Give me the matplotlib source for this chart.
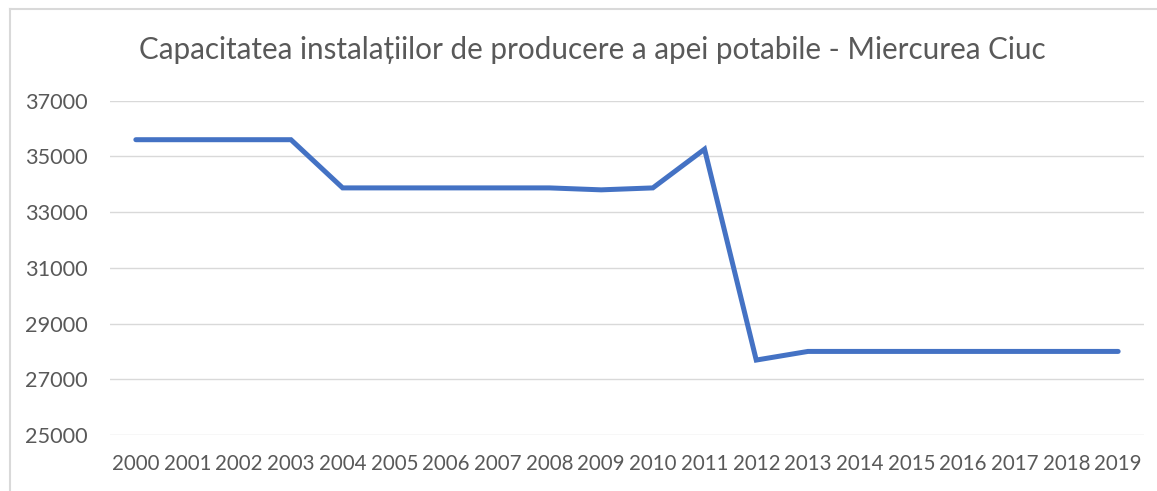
import matplotlib
matplotlib.use("Agg")
import matplotlib.pyplot as plt
from matplotlib.lines import Line2D

years = [str(y) for y in range(2000, 2020)]
capacity = [35600, 35600, 35600, 35600,
            33870, 33870, 33870, 33870, 33870,
            33800, 33870, 35260, 27690,
            28000, 28000, 28000, 28000, 28000, 28000, 28000]
y_ticks = [25000, 27000, 29000, 31000, 33000, 35000, 37000]
title = "Capacitatea instalațiilor de producere a apei potabile - Miercurea Ciuc"

plt.rcParams['font.family'] = ['Lato', 'DejaVu Sans']

W, H = 1157, 491
fig = plt.figure(figsize=(W / 100, H / 100), dpi=100)
ax = fig.add_axes([110 / W, 1 - 435 / H, (1144 - 110) / W, (435 - 100.7) / H])

x = list(range(len(years)))
ax.plot(x, capacity, color="#4472C4", linewidth=3.6,
        solid_capstyle="round", solid_joinstyle="miter", zorder=3)

ax.set_xlim(-0.5, len(years) - 0.5)
ax.set_ylim(25000, 37000)
ax.set_yticks(y_ticks)
ax.set_yticklabels([str(v) for v in y_ticks])
ax.set_xticks(x)
ax.set_xticklabels(years)

ax.grid(axis="y", color="#D9D9D9", linewidth=1.0)
ax.set_axisbelow(True)
for s in ax.spines.values():
    s.set_visible(False)
ax.tick_params(axis="both", length=0, labelcolor="#595959")
ax.tick_params(axis="y", pad=16, labelsize=15.6)
ax.tick_params(axis="x", pad=14, labelsize=14.8)

fig.text(592 / W, 1 - 50 / H, title, ha="center", va="center",
         fontsize=21.3, color="#595959")

# chart-area border (left and top edges)
fig.add_artist(Line2D([10 / W, 10 / W], [0, 1 - 8.5 / H], transform=fig.transFigure,
                      color="#D9D9D9", linewidth=1.5))
fig.add_artist(Line2D([10 / W, 1], [1 - 8.5 / H, 1 - 8.5 / H], transform=fig.transFigure,
                      color="#D9D9D9", linewidth=1.5))

fig.savefig("out.png", dpi=100)
